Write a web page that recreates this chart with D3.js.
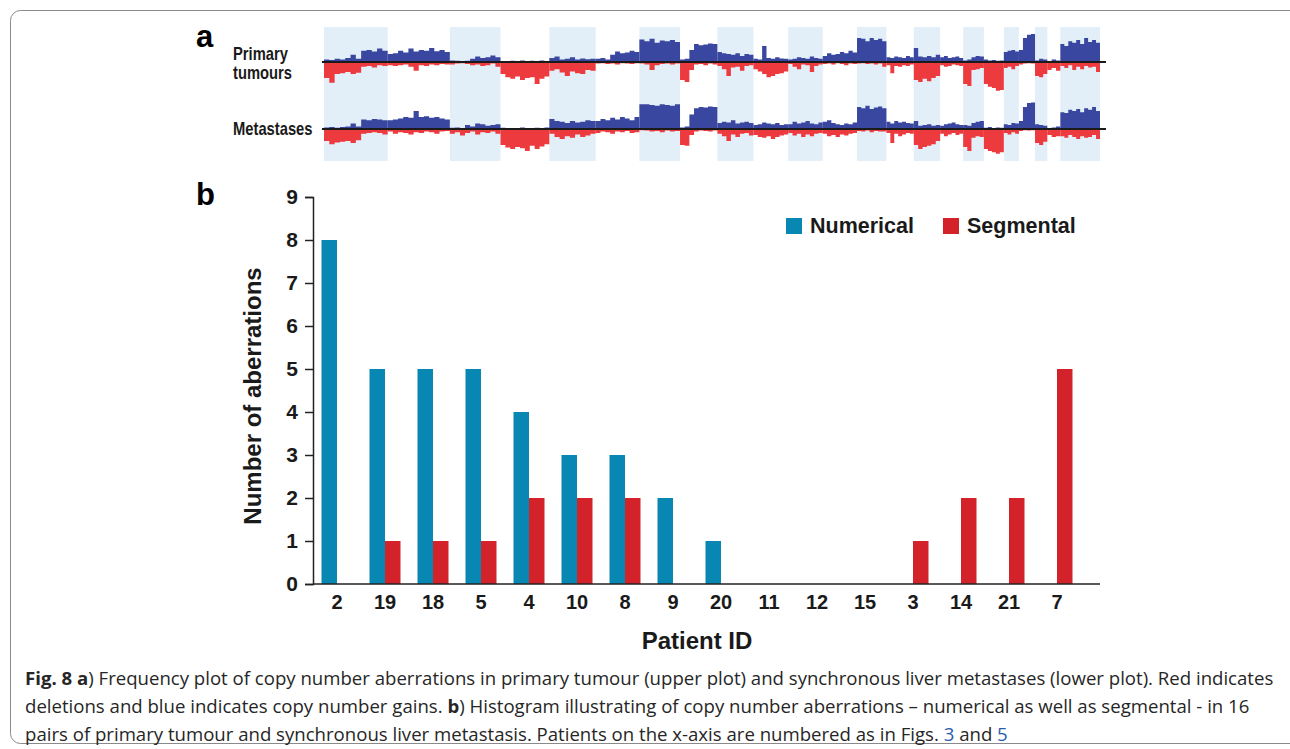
<!DOCTYPE html>
<html>
<head>
<meta charset="utf-8">
<script src="https://cdn.jsdelivr.net/npm/d3@7"></script>
<style>
    body { margin: 0; background: #fff; }
    svg { display: block; }
</style>
</head>
<body>
<div id="chart"></div>
<script>
// ---- Panel b data ----
const patients = ["2", "19", "18", "5", "4", "10", "8", "9", "20", "11", "12", "15", "3", "14", "21", "7"];
const numerical = [8, 5, 5, 5, 4, 3, 3, 2, 1, 0, 0, 0, 0, 0, 0, 0];
const segmental = [0, 1, 1, 1, 2, 2, 2, 0, 0, 0, 0, 0, 1, 2, 2, 5];
const yTicks = [0, 1, 2, 3, 4, 5, 6, 7, 8, 9];

// ---- Panel a data (frequency in % of patients, per chromosome bins) ----
const chromLengths = [249, 243, 198, 191, 181, 171, 159, 146, 141, 136, 135, 134, 115, 107, 103, 90, 81, 78, 59, 63, 48, 51, 155];

const primaryGain = [
    [6, 5, 8, 6, 10, 18, 8, 28, 30, 26, 34, 28],
    [20, 22, 28, 24, 34, 26, 30, 28, 35, 27, 30, 25],
    [4, 3, 2, 3, 8, 14, 10, 12, 16, 12],
    [2, 1, 3, 2, 4, 2, 3, 2, 4, 2],
    [10, 14, 6, 8, 12, 6, 9, 7, 8],
    [8, 10, 6, 18, 26, 22, 24, 28, 25],
    [56, 52, 58, 48, 54, 52, 55, 50],
    [6, 8, 30, 45, 42, 44, 46, 45],
    [25, 22, 20, 18, 22, 15, 20, 18],
    [8, 6, 40, 10, 8, 12, 9, 8],
    [6, 8, 12, 10, 8, 14, 10, 8],
    [15, 22, 18, 20, 25, 22, 28, 24],
    [60, 58, 52, 60, 55, 58, 52],
    [12, 10, 14, 12, 10, 15, 12],
    [35, 14, 12, 15, 12, 18],
    [12, 15, 10, 12, 14, 10],
    [4, 6, 12, 15, 14],
    [6, 4, 5, 3, 4],
    [25, 28, 30, 26],
    [30, 60, 68, 70],
    [4, 8, 6],
    [2, 6, 4],
    [45, 40, 52, 48, 55, 45, 60, 50, 55, 48]
];
const primaryLoss = [
    [40, 52, 30, 28, 25, 30, 27, 12, 10, 14, 8, 10],
    [8, 10, 8, 6, 12, 22, 8, 10, 6, 8, 5, 6],
    [6, 4, 3, 5, 8, 6, 10, 8, 4, 12],
    [30, 38, 42, 36, 45, 40, 38, 55, 42, 36],
    [22, 18, 26, 35, 24, 28, 30, 20, 22],
    [4, 3, 5, 4, 6, 3, 4, 5, 3],
    [4, 6, 20, 8, 5, 4, 6, 4],
    [45, 50, 20, 6, 5, 8, 4, 6],
    [10, 18, 35, 14, 12, 22, 10, 8],
    [18, 24, 30, 38, 35, 30, 28, 24],
    [5, 12, 18, 6, 8, 25, 10, 6],
    [5, 4, 6, 3, 5, 8, 4, 5],
    [4, 3, 5, 4, 6, 4, 12],
    [8, 28, 10, 12, 8, 10, 6],
    [45, 50, 42, 48, 40, 35],
    [8, 12, 10, 6, 8, 10],
    [55, 60, 20, 18, 15],
    [55, 62, 65, 72, 70],
    [15, 12, 18, 10],
    [6, 4, 3, 4],
    [35, 38, 30],
    [20, 15, 22],
    [10, 15, 8, 20, 12, 18, 10, 14, 12, 25]
];
const metGain = [
    [4, 5, 3, 5, 6, 14, 6, 24, 22, 25, 24, 22],
    [22, 24, 26, 30, 28, 45, 30, 32, 28, 30, 26, 24],
    [3, 4, 2, 10, 6, 14, 12, 8, 10, 12],
    [3, 2, 1, 2, 4, 1, 2, 3, 2, 4],
    [25, 20, 18, 15, 20, 16, 18, 22, 20],
    [20, 25, 22, 28, 24, 30, 26, 22, 30],
    [62, 62, 60, 58, 62, 60, 58, 62],
    [4, 6, 36, 52, 55, 54, 56, 55],
    [15, 18, 16, 22, 14, 16, 18, 15],
    [10, 12, 16, 14, 12, 15, 10, 12],
    [12, 18, 14, 16, 20, 14, 12, 16],
    [18, 22, 15, 12, 10, 14, 12, 16],
    [55, 52, 58, 50, 54, 56, 52],
    [18, 14, 20, 16, 18, 15, 14],
    [20, 8, 10, 12, 8, 10],
    [8, 12, 14, 16, 12, 10],
    [10, 8, 15, 18, 20],
    [3, 5, 2, 4, 3],
    [12, 10, 15, 14],
    [20, 55, 65, 66],
    [12, 10, 8],
    [2, 4, 6],
    [42, 40, 48, 45, 50, 42, 52, 48, 55, 45]
];
const metLoss = [
    [30, 38, 34, 32, 30, 35, 28, 12, 10, 8, 10, 14],
    [6, 12, 8, 10, 14, 8, 10, 6, 8, 12, 6, 5],
    [12, 8, 16, 10, 6, 14, 8, 10, 6, 12],
    [40, 46, 50, 45, 48, 55, 42, 50, 44, 38],
    [12, 20, 25, 18, 22, 14, 20, 16, 12],
    [10, 6, 8, 12, 6, 8, 5, 10, 8],
    [3, 4, 6, 5, 8, 4, 6, 5],
    [40, 42, 15, 6, 4, 5, 6, 4],
    [12, 18, 30, 14, 20, 12, 10, 16],
    [15, 20, 22, 18, 25, 20, 16, 14],
    [10, 16, 12, 20, 14, 18, 12, 10],
    [12, 18, 15, 20, 14, 16, 12, 10],
    [5, 6, 4, 8, 5, 6, 6],
    [10, 35, 12, 18, 14, 10, 12],
    [40, 50, 45, 42, 38, 30],
    [12, 18, 14, 10, 15, 12],
    [45, 55, 22, 18, 20],
    [50, 55, 58, 62, 58],
    [10, 14, 8, 12],
    [5, 3, 4, 3],
    [35, 40, 32],
    [15, 20, 18],
    [18, 22, 15, 20, 25, 18, 22, 20, 15, 25]
];

const caption = [
    [{t: "Fig. 8 a", b: true}, {t: ") Frequency plot of copy number aberrations in primary tumour (upper plot) and synchronous liver metastases (lower plot). Red indicates"}],
    [{t: "deletions and blue indicates copy number gains. "}, {t: "b", b: true}, {t: ") Histogram illustrating of copy number aberrations \u2013 numerical as well as segmental - in 16"}],
    [{t: "pairs of primary tumour and synchronous liver metastasis. Patients on the x-axis are numbered as in Figs. "}, {t: "3", link: true}, {t: " and "}, {t: "5", link: true}]
];

/**
 * Figure with a copy number frequency strip (a) and a grouped bar chart (b)
 */
function AberrationFigure(element) {
    this.element = element;
    this.width = 1290;
    this.height = 749;

    this.blue = "#0887b3";
    this.red = "#d3222a";
    this.gainColor = "#3a47a0";
    this.lossColor = "#ec3a3f";
    this.font = "'Liberation Sans', Arial, sans-serif";

    this.init = function () {
        let me = this;
        me.svg = d3.select(me.element).append("svg")
            .attr("width", me.width)
            .attr("height", me.height);

        me.drawFrame();
        me.drawPanelA();
        me.drawPanelB();
        me.drawCaption();
    };

    /**
     * Rounded card border around the figure
     */
    this.drawFrame = function () {
        this.svg.append("rect")
            .attr("x", 10.5).attr("y", 10.5)
            .attr("width", 1320).attr("height", 733)
            .attr("rx", 10)
            .attr("fill", "none")
            .attr("stroke", "#8a8a8a");
    };

    /**
     * Frequency plot of gains / losses along the genome
     */
    this.drawPanelA = function () {
        let me = this;
        let g = me.svg.append("g");

        let total = d3.sum(chromLengths);
        let starts = d3.cumsum([0].concat(chromLengths.slice(0, -1)));
        let gx = d3.scaleLinear().domain([0, total]).range([324, 1100]);

        // Alternating chromosome bands
        g.selectAll(".band")
            .data(chromLengths.map((len, i) => ({start: starts[i], len: len, i: i})).filter(d => d.i % 2 === 0))
            .enter().append("rect")
            .attr("x", d => gx(d.start))
            .attr("width", d => gx(d.start + d.len) - gx(d.start))
            .attr("y", 27).attr("height", 134)
            .attr("fill", "#e3eff8");

        let rows = [
            {base: 62, gain: primaryGain, loss: primaryLoss},
            {base: 129, gain: metGain, loss: metLoss}
        ];

        rows.forEach(row => {
            let y = d3.scaleLinear().domain([-100, 100]).range([row.base + 40, row.base - 40]);

            let drawSeries = function (series, sign, color) {
                series.forEach((vals, c) => {
                    let n = vals.length;
                    let step = chromLengths[c] / n;
                    let pts = vals.map((v, i) => ({x: starts[c] + i * step, v: v}));
                    pts.push({x: starts[c] + chromLengths[c], v: vals[n - 1]});
                    let area = d3.area()
                        .x(d => gx(d.x))
                        .y0(y(0))
                        .y1(d => y(sign * d.v))
                        .curve(d3.curveStepAfter);
                    g.append("path").attr("d", area(pts)).attr("fill", color);
                });
            };

            drawSeries(row.gain, 1, me.gainColor);
            drawSeries(row.loss, -1, me.lossColor);

            g.append("line")
                .attr("x1", gx(0) - 2).attr("x2", gx(total) + 6)
                .attr("y1", y(0)).attr("y2", y(0))
                .attr("stroke", "#1b1b1b").attr("stroke-width", 2);
        });

        // Row labels (condensed, like Arial Narrow)
        g.append("text").attr("x", 196).attr("y", 47).text("a")
            .style("font", "bold 31px " + me.font);
        [{t: "Primary", y: 60}, {t: "tumours", y: 79}, {t: "Metastases", y: 135}].forEach(d => {
            g.append("text")
                .attr("transform", `translate(233,${d.y}) scale(0.82,1)`)
                .text(d.t)
                .style("font", "bold 18px " + me.font)
                .attr("fill", "#1a1a1a");
        });
    };

    /**
     * Grouped bars: numerical vs segmental aberrations per patient
     */
    this.drawPanelB = function () {
        let me = this;
        let g = me.svg.append("g");

        let x = d3.scaleBand().domain(patients).range([313, 1081]);
        let inner = d3.scaleBand().domain(["n", "s"]).range([0, 31]);
        let y = d3.scaleLinear().domain([0, 9]).range([584, 197]);

        let groupStart = p => x(p) + (x.bandwidth() - inner.range()[1]) / 2;

        // Bars
        g.selectAll(".bar-n")
            .data(patients.map((p, i) => ({p: p, v: numerical[i]})).filter(d => d.v > 0))
            .enter().append("rect")
            .attr("x", d => groupStart(d.p) + inner("n"))
            .attr("width", inner.bandwidth())
            .attr("y", d => y(d.v))
            .attr("height", d => y(0) - y(d.v))
            .attr("fill", me.blue);

        g.selectAll(".bar-s")
            .data(patients.map((p, i) => ({p: p, v: segmental[i]})).filter(d => d.v > 0))
            .enter().append("rect")
            .attr("x", d => groupStart(d.p) + inner("s"))
            .attr("width", inner.bandwidth())
            .attr("y", d => y(d.v))
            .attr("height", d => y(0) - y(d.v))
            .attr("fill", me.red);

        // y-axis
        let yAxis = d3.axisLeft(y).tickValues(yTicks).tickSize(8).tickPadding(7);
        let yg = g.append("g").attr("transform", "translate(313,0)").call(yAxis);
        yg.select(".domain").attr("stroke", "#222").attr("stroke-width", 1.5);
        yg.selectAll(".tick line").attr("stroke", "#222").attr("stroke-width", 1.5);
        yg.selectAll(".tick text").style("font", "bold 21px " + me.font).attr("fill", "#1a1a1a");

        // x-axis
        let xAxis = d3.axisBottom(x).tickSize(0).tickPadding(11);
        let xg = g.append("g").attr("transform", "translate(0,584)").call(xAxis);
        xg.select(".domain").remove();
        xg.selectAll(".tick text").style("font", "bold 20px " + me.font).attr("fill", "#1a1a1a");
        g.append("line")
            .attr("x1", 313).attr("x2", 1100)
            .attr("y1", 584).attr("y2", 584)
            .attr("stroke", "#222").attr("stroke-width", 1.5);

        // Titles
        g.append("text").attr("x", 196).attr("y", 205).text("b")
            .style("font", "bold 31px " + me.font);
        g.append("text")
            .attr("transform", "translate(261,396) rotate(-90)")
            .attr("text-anchor", "middle")
            .text("Number of aberrations")
            .style("font", "bold 24px " + me.font).attr("fill", "#1a1a1a");
        g.append("text")
            .attr("x", (313 + 1081) / 2).attr("y", 649)
            .attr("text-anchor", "middle")
            .text("Patient ID")
            .style("font", "bold 24px " + me.font).attr("fill", "#1a1a1a");

        // Legend
        let legend = g.append("g").attr("class", "legend");
        [{label: "Numerical", color: me.blue, x: 786}, {label: "Segmental", color: me.red, x: 943}].forEach(d => {
            legend.append("rect").attr("x", d.x).attr("y", 218).attr("width", 16).attr("height", 16).attr("fill", d.color);
            legend.append("text").attr("x", d.x + 24).attr("y", 233).text(d.label)
                .style("font", "bold 21.5px " + me.font).attr("fill", "#1a1a1a");
        });
    };

    /**
     * Figure caption below the chart
     */
    this.drawCaption = function () {
        let me = this;
        caption.forEach((line, i) => {
            let t = me.svg.append("text")
                .attr("x", 25).attr("y", 685 + i * 28)
                .style("font-family", "'Open Sans', sans-serif")
                .style("font-size", "18.6px")
                .attr("fill", "#262626");
            line.forEach(part => {
                let s = t.append("tspan").text(part.t);
                if (part.b) s.style("font-weight", "bold");
                if (part.link) s.attr("fill", "#2a5db0");
            });
        });
    };

    this.init();
}

new AberrationFigure(document.getElementById("chart"));
</script>
</body>
</html>
